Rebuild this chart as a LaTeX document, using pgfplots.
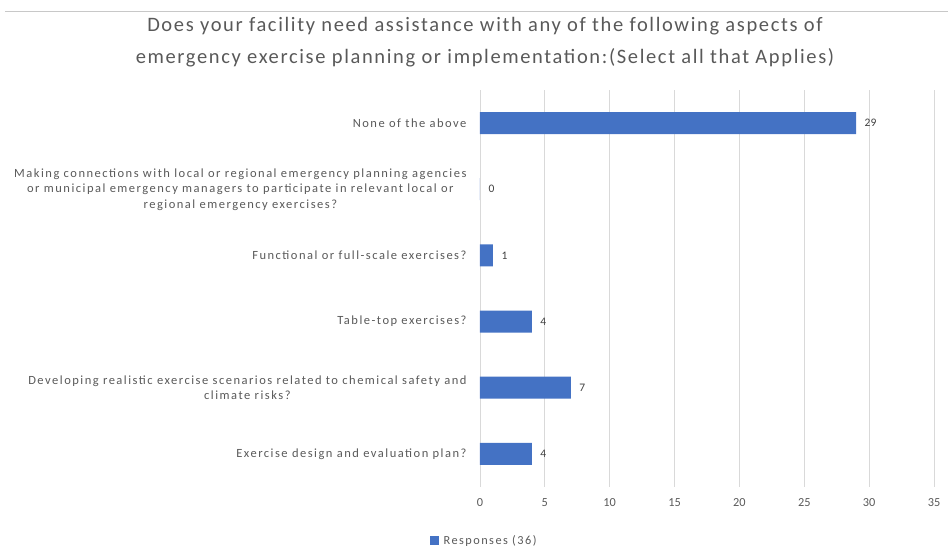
\documentclass[border=0pt]{standalone}
\usepackage{pgfplots}
\pgfplotsset{compat=1.18}
\usepackage{fontspec}
\setmainfont{Carlito}
\newfontfamily\lsfont[LetterSpace=12]{Carlito}
\newfontfamily\tsfont[LetterSpace=8]{Carlito}
\definecolor{barblue}{HTML}{4472C4}
\definecolor{txtgray}{HTML}{595959}
\definecolor{gridgray}{HTML}{D9D9D9}
\begin{document}
\begin{tikzpicture}[x=1pt,y=1pt]
\useasboundingbox (0,0) rectangle (948,548);
\draw[color={rgb,255:red,200;green,200;blue,200}, line width=0.8pt] (5,537) -- (948,537);
\node[text=txtgray, font=\tsfont\fontsize{20.5}{32}\selectfont, align=center] at (485,506)
 {Does your facility need assistance with any of the following aspects of\\emergency exercise planning or implementation:(Select all that Applies)};
\begin{axis}[
  at={(480pt,61pt)}, anchor=south west,
  width=454pt, height=397pt, scale only axis,
  xbar, bar width=22pt,
  xmin=0, xmax=35, ymin=-0.5, ymax=5.5,
  xtick={0,5,...,35},
  ytick={0,1,2,3,4,5},
  yticklabels={Exercise design and evaluation plan?,
    {Developing realistic exercise scenarios related to chemical safety and\\climate risks?},
    Table-top exercises?,
    Functional or full-scale exercises?,
    {Making connections with local or regional emergency planning agencies\\or municipal emergency managers to participate in relevant local or\\regional emergency exercises?},
    None of the above},
  yticklabel style={align=center, font=\lsfont\fontsize{12.5}{15.5}\selectfont, text=txtgray, xshift=-10pt},
  xticklabel style={font=\fontsize{12.3}{15}\selectfont, text=txtgray, yshift=-8pt},
  /pgf/number format/assume math mode=true,
  major tick length=0pt,
  xmajorgrids, grid style={gridgray, line width=0.8pt},
  axis line style={draw=none},
  nodes near coords,
  nodes near coords style={font=\fontsize{11.5}{14}\selectfont, text={rgb,255:red,64;green,64;blue,64}, anchor=west, xshift=5pt},
  legend style={at={(0.009,-0.136)}, anchor=center, draw=none, font=\lsfont\fontsize{12.3}{14}\selectfont, text=txtgray, fill=none},
  legend image code/.code={\fill[barblue] (0pt,-4.5pt) rectangle (9pt,4.5pt); \path (12pt,0pt);},
]
\addplot[fill=barblue, draw=none] coordinates {(4,0) (7,1) (4,2) (1,3) (0,4) (29,5)};
\addlegendentry{Responses (36)}
\end{axis}
\end{tikzpicture}
\end{document}
